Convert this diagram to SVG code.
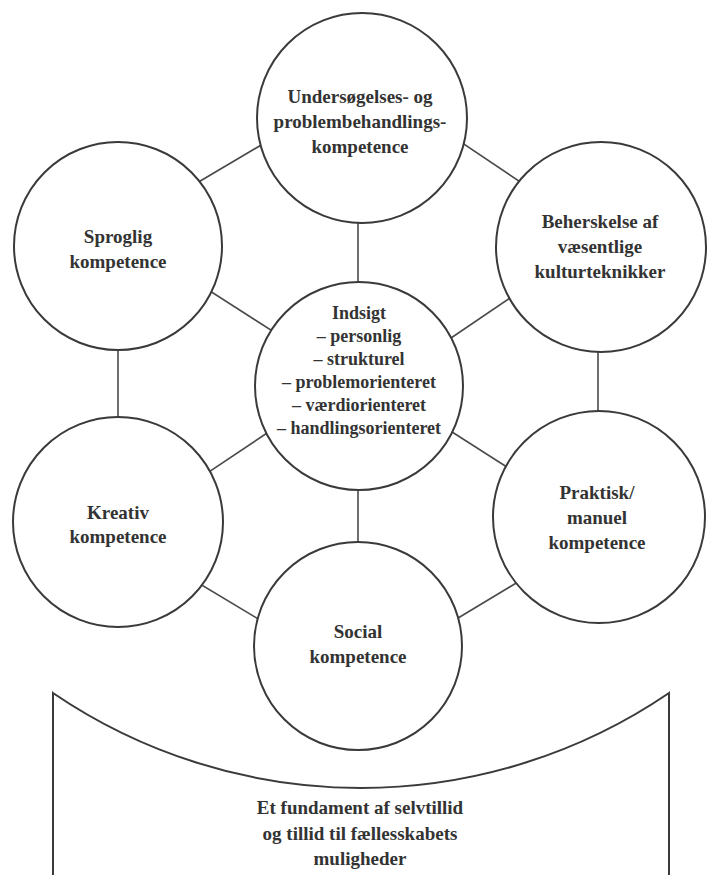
<svg xmlns="http://www.w3.org/2000/svg" width="707" height="875" viewBox="0 0 707 875">
<style>
.node{fill:#ffffff;stroke:#3a3a3a;stroke-width:2}
.link{stroke:#4a4a4a;stroke-width:1.6;fill:none}
.t{font-family:"Liberation Serif","Noto Serif","DejaVu Serif",Times,serif;font-size:19px;font-weight:bold;fill:#333333;text-anchor:middle}
.c{font-size:18px}
</style>
<rect width="707" height="875" fill="#ffffff"/>
<g id="foundation">
<path class="node" d="M53,876 L53,693 A547,547 0 0 0 669,693 L669,876"/>
<text class="t" x="360" y="814">Et fundament af selvtillid</text>
<text class="t" x="360" y="840">og tillid til fællesskabets</text>
<text class="t" x="360" y="865">muligheder</text>
</g>
<g id="connectors">
<line class="link" x1="358" y1="200" x2="358" y2="300"/>
<line class="link" x1="358" y1="470" x2="358" y2="560"/>
<line class="link" x1="118" y1="330" x2="118" y2="440"/>
<line class="link" x1="598" y1="330" x2="598" y2="430"/>
<line class="link" x1="150" y1="210.7" x2="300" y2="122"/>
<line class="link" x1="420" y1="114.7" x2="560" y2="208.6"/>
<line class="link" x1="160" y1="259" x2="300" y2="348.7"/>
<line class="link" x1="420" y1="359" x2="560" y2="264"/>
<line class="link" x1="160" y1="504.7" x2="300" y2="411"/>
<line class="link" x1="160" y1="560" x2="310" y2="650"/>
<line class="link" x1="420" y1="411.5" x2="560" y2="501"/>
<line class="link" x1="560" y1="556.7" x2="400" y2="653"/>
</g>
<g id="undersoegelse">
<circle class="node" cx="362" cy="118" r="105"/>
<text class="t" x="360" y="103">Undersøgelses- og</text>
<text class="t" x="360" y="128">problembehandlings-</text>
<text class="t" x="360" y="153">kompetence</text>
</g>
<g id="sproglig">
<circle class="node" cx="118" cy="246" r="104"/>
<text class="t" x="118" y="243">Sproglig</text>
<text class="t" x="118" y="268">kompetence</text>
</g>
<g id="beherskelse">
<circle class="node" cx="601" cy="247" r="105"/>
<text class="t" x="600" y="228">Beherskelse af</text>
<text class="t" x="600" y="253">væsentlige</text>
<text class="t" x="600" y="278">kulturteknikker</text>
</g>
<g id="indsigt">
<circle class="node" cx="359" cy="386" r="104"/>
<text class="t c" x="359" y="319">Indsigt</text>
<text class="t c" x="359" y="342">– personlig</text>
<text class="t c" x="359" y="365">– strukturel</text>
<text class="t c" x="359" y="388">– problemorienteret</text>
<text class="t c" x="359" y="411">– værdiorienteret</text>
<text class="t c" x="359" y="434">– handlingsorienteret</text>
</g>
<g id="kreativ">
<circle class="node" cx="118" cy="522" r="105"/>
<text class="t" x="118" y="519">Kreativ</text>
<text class="t" x="118" y="543">kompetence</text>
</g>
<g id="praktisk">
<circle class="node" cx="599" cy="517" r="106"/>
<text class="t" x="597" y="499">Praktisk/</text>
<text class="t" x="597" y="524">manuel</text>
<text class="t" x="597" y="549">kompetence</text>
</g>
<g id="social">
<circle class="node" cx="358" cy="646" r="104"/>
<text class="t" x="358" y="638">Social</text>
<text class="t" x="358" y="663">kompetence</text>
</g>
</svg>
